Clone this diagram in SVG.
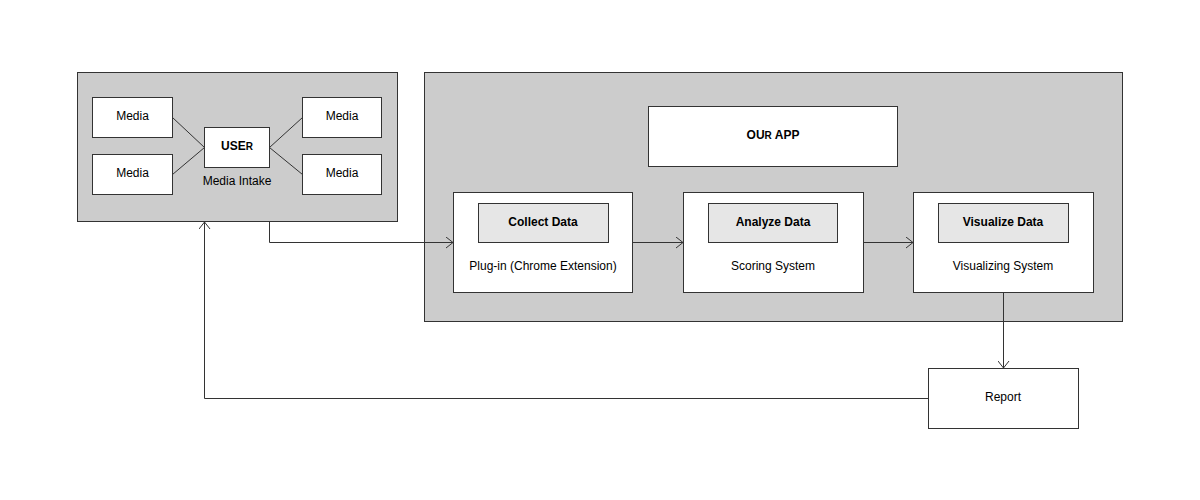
<svg xmlns="http://www.w3.org/2000/svg" width="1200" height="500" viewBox="0 0 1200 500">
<defs>
<marker id="arr" markerWidth="10" markerHeight="12" refX="8" refY="6" orient="auto" markerUnits="userSpaceOnUse">
<path d="M1,0.5 L8,6 L1,11.5" fill="none" stroke="#333" stroke-width="1"/>
</marker>
<style>
.cont{fill:#cccccc;stroke:#333;stroke-width:1}
.box{fill:#fff;stroke:#333;stroke-width:1}
.inner{fill:#e6e6e6;stroke:#333;stroke-width:1}
.t{font-family:"Liberation Sans",Arial,sans-serif;font-size:12px;fill:#000;text-anchor:middle;dominant-baseline:central}
.b{font-weight:bold}
.sm{font-size:10px}
.ln{fill:none;stroke:#333;stroke-width:1}
</style>
</defs>
<rect width="1200" height="500" fill="#fff"/>
<g id="media-intake">
<rect class="cont" x="77.5" y="72.5" width="320" height="149"/>
</g>
<g id="our-app-container">
<rect class="cont" x="424.5" y="72.5" width="698" height="249"/>
</g>
<g id="connectors">
<path class="ln" d="M172.5,117.5 L204.5,147.5 M172.5,174.5 L204.5,147.5 M269.5,147.5 L302.5,117.5 M269.5,147.5 L302.5,174.5"/>
<path class="ln" d="M269.5,222 L269.5,242.5 L453,242.5" marker-end="url(#arr)"/>
<path class="ln" d="M632.5,242.5 L683,242.5" marker-end="url(#arr)"/>
<path class="ln" d="M863.5,242.5 L913,242.5" marker-end="url(#arr)"/>
<path class="ln" d="M1003.5,292.5 L1003.5,368" marker-end="url(#arr)"/>
<path class="ln" d="M928.5,398.5 L204.5,398.5 L204.5,222" marker-end="url(#arr)"/>
</g>
<g id="media1"><rect class="box" x="92.5" y="97.5" width="80" height="40"/><text class="t" x="132.5" y="116">Media</text></g>
<g id="media2"><rect class="box" x="92.5" y="154.5" width="80" height="40"/><text class="t" x="132.5" y="173">Media</text></g>
<g id="media3"><rect class="box" x="302.5" y="97.5" width="79" height="40"/><text class="t" x="342" y="116">Media</text></g>
<g id="media4"><rect class="box" x="302.5" y="154.5" width="79" height="40"/><text class="t" x="342" y="173">Media</text></g>
<g id="user"><rect class="box" x="204.5" y="127.5" width="65" height="40"/><text class="t b" x="237" y="146">USE<tspan class="sm">R</tspan></text><text class="t" x="237" y="181">Media Intake</text></g>
<g id="our-app"><rect class="box" x="648.5" y="106.5" width="249" height="60"/><text class="t b" x="773" y="135">OU<tspan class="sm">R</tspan> APP</text></g>
<g id="collect"><rect class="box" x="453.5" y="192.5" width="179" height="100"/><rect class="inner" x="478.5" y="203.5" width="130" height="39"/><text class="t b" x="543" y="222">Collect Data</text><text class="t" x="543" y="266">Plug-in (Chrome Extension)</text></g>
<g id="analyze"><rect class="box" x="683.5" y="192.5" width="180" height="100"/><rect class="inner" x="708.5" y="203.5" width="129" height="39"/><text class="t b" x="773" y="222">Analyze Data</text><text class="t" x="773" y="266">Scoring System</text></g>
<g id="visualize"><rect class="box" x="913.5" y="192.5" width="180" height="100"/><rect class="inner" x="938.5" y="203.5" width="130" height="39"/><text class="t b" x="1003" y="222">Visualize Data</text><text class="t" x="1003" y="266">Visualizing System</text></g>
<g id="report"><rect class="box" x="928.5" y="368.5" width="150" height="60"/><text class="t" x="1003" y="397">Report</text></g>
</svg>
